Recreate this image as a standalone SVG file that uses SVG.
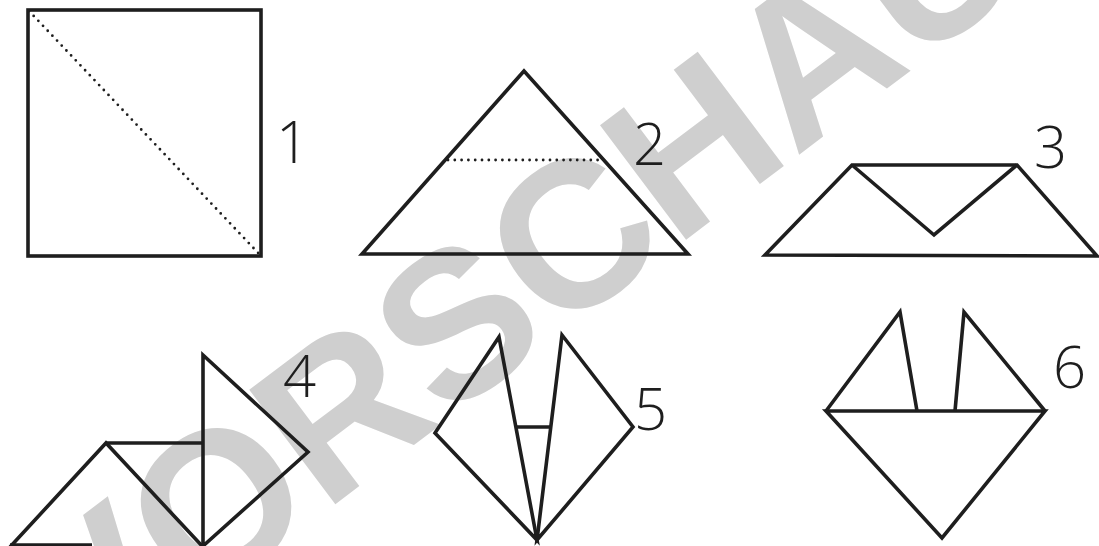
<svg xmlns="http://www.w3.org/2000/svg" width="1099" height="546" viewBox="0 0 1099 546">
<style>
.ln{fill:none;stroke:#1e1e1e;stroke-width:3.6;stroke-linejoin:miter;stroke-linecap:butt}
.dot{fill:none;stroke:#1e1e1e;stroke-width:2.8;stroke-linecap:round;stroke-dasharray:0 6.8}
.num{font-family:"Open Sans","Lato","Liberation Sans",sans-serif;font-weight:300;font-size:58px;fill:#1e1e1e}
.wm{font-family:"Liberation Sans",Arial,sans-serif;font-weight:bold;font-size:208px;fill:#cfcfcf}
</style>
<rect width="1099" height="546" fill="#ffffff"/>
<text class="wm" transform="translate(515,276) rotate(-37)" x="0" y="74" text-anchor="middle">VORSCHAU</text>
<g id="step1">
<rect class="ln" x="28" y="10" width="233" height="246"/>
<line class="dot" x1="29" y1="11" x2="262" y2="257"/>
<text class="num" x="276" y="163">1</text>
</g>
<g id="step2">
<polygon class="ln" points="524,71 362,254 688,254"/>
<line class="dot" x1="448" y1="160" x2="603" y2="160"/>
<text class="num" x="633" y="165">2</text>
</g>
<g id="step3">
<polygon class="ln" points="852,165 1017,165 1097,256 765,255"/>
<polyline class="ln" points="852,165 934,235 1017,165"/>
<text class="num" x="1034" y="168">3</text>
</g>
<g id="step4">
<polyline class="ln" points="10,547 106,443 203,547"/>
<line class="ln" x1="106" y1="443" x2="203" y2="443"/>
<polygon class="ln" points="203,355 308,452 203,546"/>
<line class="ln" x1="10" y1="545" x2="92" y2="545"/>
<text class="num" x="283" y="397">4</text>
</g>
<g id="step5">
<polygon class="ln" points="435,433 499,337 537,540"/>
<polygon class="ln" points="562,335 633,427 537,540"/>
<line class="ln" x1="516" y1="427" x2="551" y2="427"/>
<text class="num" x="634" y="430">5</text>
</g>
<g id="step6">
<polygon class="ln" points="826,411 1045,411 942,538"/>
<polyline class="ln" points="826,411 900,312 917,411"/>
<polyline class="ln" points="1045,411 964,312 955,411"/>
<text class="num" x="1053" y="388">6</text>
</g>
</svg>
